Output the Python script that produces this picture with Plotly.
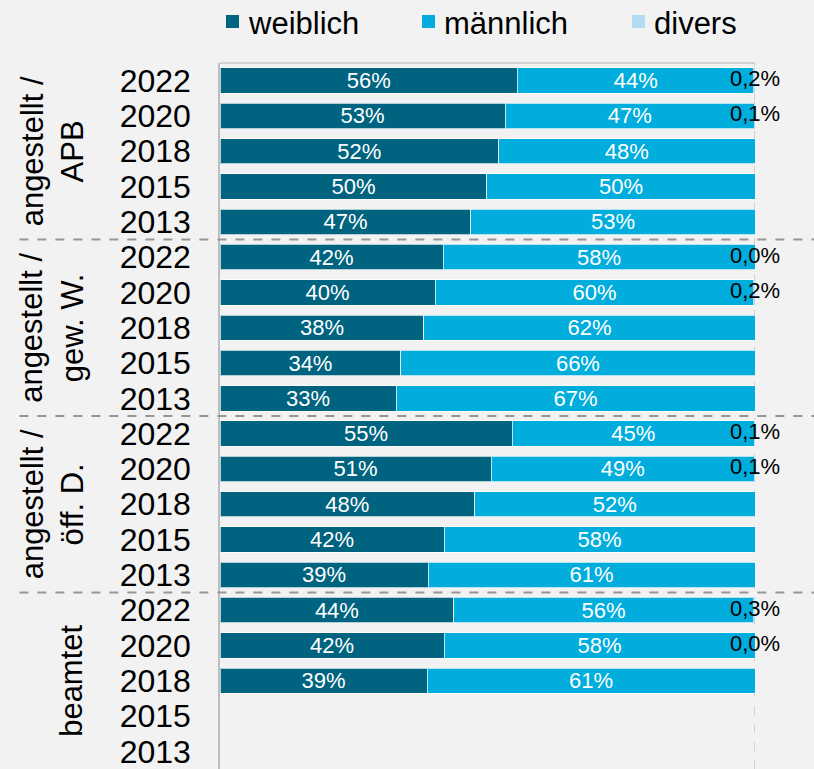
import plotly.graph_objects as go

years = ['2022', '2020', '2018', '2015', '2013']
groups = ['angestellt /<br>APB', 'angestellt /<br>gew. W.', 'angestellt /<br>öff. D.', 'beamtet']
series = ['weiblich', 'männlich', 'divers']

# shares in percent, rows ordered group by group, 2022 -> 2013
weiblich = [55.6, 53.3, 52.1, 49.9, 46.9,
            41.7, 40.2, 38.1, 33.8, 32.9,
            54.6, 50.7, 47.6, 41.9, 38.9,
            43.7, 41.9, 38.7, None, None]
maennlich = [44.2, 46.6, 47.9, 50.1, 53.1,
             58.3, 59.6, 61.9, 66.2, 67.1,
             45.3, 49.2, 52.4, 58.1, 61.1,
             56.0, 58.1, 61.3, None, None]
divers = [0.2, 0.1, None, None, None,
          0.0, 0.2, None, None, None,
          0.1, 0.1, None, None, None,
          0.3, 0.0, None, None, None]

rows = list(range(len(weiblich)))
ticktext = years * len(groups)

colors = ['rgb(0,99,127)', 'rgb(0,173,220)', 'rgb(178,220,244)']
font = 'Liberation Sans, Arial, sans-serif'

W, H = 814, 769
L, R, T, B = 220, 59, 63, 0


def px_x(p):
    return (p - L) / (W - L - R)


def px_y(p):
    return (H - B - p) / (H - T - B)


def pct(v):
    return '' if v is None else f'{v:.0f}%'


def pct_de(v):
    return '' if v is None else f'{v:.1f}%'.replace('.', ',')


fig = go.Figure()

for name, vals, col in [(series[0], weiblich, colors[0]), (series[1], maennlich, colors[1])]:
    fig.add_trace(go.Bar(
        name=name,
        x=vals,
        y=rows,
        orientation='h',
        marker=dict(color=col, line=dict(color='rgba(255,255,255,0.7)', width=1)),
        text=[pct(v) for v in vals],
        textposition='inside',
        insidetextanchor='middle',
        textangle=0,
        textfont=dict(color='white', size=22, family=font),
        width=0.72,
    ))

fig.add_trace(go.Bar(
    name=series[2],
    x=divers,
    y=rows,
    orientation='h',
    marker=dict(color=colors[2], line=dict(width=0)),
    width=0.72,
))

# divers labels at the end of each stacked bar
tot_x, tot_y, tot_t = [], [], []
for i, d in enumerate(divers):
    if d is not None:
        tot_x.append(round(weiblich[i] + maennlich[i] + d, 3))
        tot_y.append(i)
        tot_t.append(pct_de(d))
fig.add_trace(go.Scatter(
    x=tot_x, y=tot_y, text=tot_t, mode='text',
    textposition='middle center', cliponaxis=False,
    textfont=dict(color='black', size=22, family=font),
    showlegend=False, hoverinfo='skip',
))

# group separators
for k in range(1, len(groups)):
    fig.add_shape(type='line', xref='paper', yref='y',
                  x0=-0.375, x1=1.12, y0=k * 5 - 0.5, y1=k * 5 - 0.5,
                  line=dict(color='rgb(150,150,150)', width=2, dash='dash'))

# plot frame: top solid, right dashed
fig.add_shape(type='line', xref='paper', yref='paper', x0=0, x1=1, y0=1, y1=1,
              line=dict(color='rgb(200,200,200)', width=1.5), layer='below')
fig.add_shape(type='line', xref='x', yref='paper', x0=100, x1=100, y0=0, y1=1,
              line=dict(color='rgb(200,200,200)', width=1.5, dash='dash'), layer='below')

# group labels
for k, g in enumerate(groups):
    fig.add_annotation(
        x=-0.24, xref='paper', xanchor='right',
        y=k * 5 + 2, yref='y', yanchor='middle',
        text=g, textangle=-90, showarrow=False, align='center',
        font=dict(size=31, color='black', family=font),
    )

# legend drawn by hand so the three entries stay on one row
for name, col, left in zip(series, colors, [226, 422, 632]):
    fig.add_shape(type='rect', xref='paper', yref='paper',
                  x0=px_x(left), x1=px_x(left + 13), y0=px_y(28), y1=px_y(15),
                  fillcolor=col, line_width=0)
    fig.add_annotation(
        x=px_x(left + 20), xref='paper', xanchor='left',
        y=px_y(23), yref='paper', yanchor='middle',
        text=name, showarrow=False,
        font=dict(size=31, color='black', family=font),
    )

fig.update_layout(
    barmode='stack',
    width=W, height=H,
    margin=dict(l=L, r=R, t=T, b=B, autoexpand=False),
    paper_bgcolor='rgb(242,242,242)',
    plot_bgcolor='rgb(242,242,242)',
    font=dict(family=font, size=31, color='black'),
    showlegend=False,
    xaxis=dict(range=[0, 100], showgrid=False, zeroline=False, showticklabels=False,
               showline=False, fixedrange=True),
    yaxis=dict(range=[19.5, -0.5], tickvals=rows, ticktext=ticktext, showgrid=False,
               zeroline=False, showline=True, linecolor='rgb(190,190,190)', linewidth=1.5,
               ticks='', ticklabelstandoff=21, ticklabeloverflow='allow',
               tickfont=dict(size=32, color='black')),
    uniformtext=dict(minsize=22, mode='show'),
)

fig.write_html('out.html', config={'displayModeBar': False},
               post_script="document.body.style.margin='0';")
